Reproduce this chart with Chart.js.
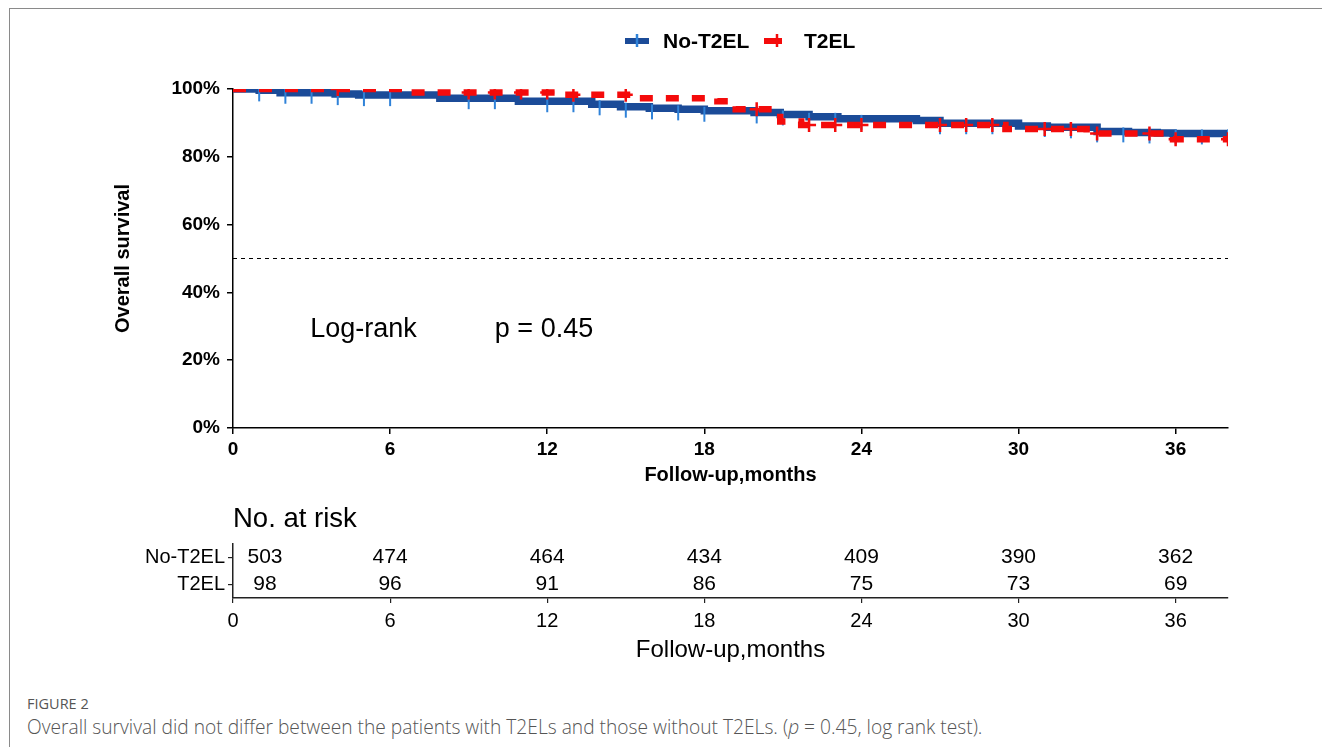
<!DOCTYPE html>
<html>
<head>
<meta charset="utf-8">
<script src="https://cdn.jsdelivr.net/npm/chart.js@4.4.0/dist/chart.umd.min.js"></script>
<style>
    html, body { margin: 0; padding: 0; background: #fff; }
    #figure {
        position: relative;
        width: 1322px;
        height: 747px;
        overflow: hidden;
        background: #fff;
    }
    #frame {
        position: absolute;
        left: 9px;
        top: 8px;
        width: 1400px;
        height: 800px;
        border-top: 1.5px solid #8a8a8a;
        border-left: 1.5px solid #8a8a8a;
    }
    #kmChart { position: absolute; left: 0; top: 0; }
    #riskChart { position: absolute; left: 0; top: 500px; }
    .fig-label {
        position: absolute;
        left: 27px;
        top: 694px;
        font-family: 'Open Sans', 'Noto Sans', sans-serif;
        font-size: 14.5px;
        color: #555;
    }
    .fig-caption {
        position: absolute;
        left: 27px;
        top: 713px;
        font-family: 'Open Sans', 'Noto Sans', sans-serif;
        font-weight: 300;
        font-size: 19.2px;
        color: #555;
        white-space: nowrap;
    }
</style>
</head>
<body>
<div id="figure">
    <div id="frame"></div>
    <canvas id="kmChart" width="1322" height="500"></canvas>
    <canvas id="riskChart" width="1322" height="180"></canvas>
    <div class="fig-label">FIGURE 2</div>
    <div class="fig-caption">Overall survival did not differ between the patients with T2ELs and those without T2ELs. (<i>p</i> = 0.45, log rank test).</div>
</div>

<script>
// Kaplan-Meier steps (months, survival %)
const noT2elTimes = [0, 1.0, 1.8, 3.9, 4.8, 7.9, 10.9, 13.7, 14.8, 15.9, 17.0, 18.0, 19.9, 20.9, 22.0, 23.1, 26.1, 27.0, 30.0, 31.1, 33.0, 34.2, 35.3, 35.9, 38];
const noT2elSurv  = [100, 99.6, 98.9, 98.5, 98.2, 97.3, 96.4, 95.5, 94.8, 94.3, 94.0, 93.6, 93.1, 92.5, 91.8, 91.2, 90.7, 89.9, 89.1, 88.7, 87.5, 87.2, 87.0, 86.9, 86.9];

const t2elTimes = [0, 6.7, 12.6, 15.5, 18.5, 19.2, 20.9, 21.7, 29.5, 32.6, 35.9, 38];
const t2elSurv  = [100, 99.0, 98.3, 97.3, 96.4, 94.0, 90.4, 89.4, 88.2, 86.9, 85.2, 85.2];

// censoring times (months)
const noT2elCensor = [1, 2, 3, 4, 5, 6, 9, 10, 12, 13, 14, 15, 16, 17, 18, 20, 21, 22, 23, 24, 27, 28, 29, 31, 32, 33, 34, 35, 36, 37, 38];
const t2elCensor   = [4, 9, 10, 11, 12, 13, 15, 20, 22, 23, 24, 27, 28, 29, 31, 32, 33, 35, 36, 38];

// median reference line
const refLineX = [0, 38];
const refLineY = [50, 50];

// number at risk table
const riskRows   = ['No-T2EL', 'T2EL'];
const riskTimes  = [0, 6, 12, 18, 24, 30, 36];
const riskNoT2el = [503, 474, 464, 434, 409, 390, 362];
const riskT2el   = [98, 96, 91, 86, 75, 73, 69];

const xTickStep = 6;
const yTicks = [0, 20, 40, 60, 80, 100];

const BLUE = '#1b4b98';
const BLUE_TICK = '#2f82d8';
const RED = '#f40b0b';
const FONT = "'Liberation Sans', Arial, Helvetica, sans-serif";

const toPoints = (xs, ys) => xs.map((x, i) => ({ x: x, y: ys[i] }));

// survival value at time t from a step curve
const survAt = (times, surv, t) => {
    let v = surv[0];
    for (let i = 0; i < times.length; i++) {
        if (times[i] <= t) v = surv[i];
    }
    return v;
};

// small vertical tick mark, hanging mostly below the curve
const makeTickImage = () => {
    const c = document.createElement('canvas');
    c.width = 4;
    c.height = 26;
    const g = c.getContext('2d');
    g.strokeStyle = BLUE_TICK;
    g.lineWidth = 2;
    g.beginPath();
    g.moveTo(2, 9);
    g.lineTo(2, 24);
    g.stroke();
    return c;
};

// legend at the top of the plot
const kmLegend = {
    id: 'kmLegend',
    afterDraw(chart) {
        const ctx = chart.ctx;
        ctx.save();
        // No-T2EL swatch
        ctx.strokeStyle = BLUE;
        ctx.lineWidth = 6;
        ctx.beginPath();
        ctx.moveTo(625, 41);
        ctx.lineTo(649, 41);
        ctx.stroke();
        ctx.strokeStyle = BLUE_TICK;
        ctx.lineWidth = 2.5;
        ctx.beginPath();
        ctx.moveTo(637, 34);
        ctx.lineTo(637, 47);
        ctx.stroke();
        // T2EL swatch
        ctx.strokeStyle = RED;
        ctx.lineWidth = 6;
        ctx.beginPath();
        ctx.moveTo(764, 41);
        ctx.lineTo(782, 41);
        ctx.stroke();
        ctx.lineWidth = 2.5;
        ctx.beginPath();
        ctx.moveTo(777, 34);
        ctx.lineTo(777, 47);
        ctx.stroke();

        ctx.fillStyle = '#000';
        ctx.font = 'bold 21px ' + FONT;
        ctx.textBaseline = 'middle';
        ctx.textAlign = 'left';
        ctx.fillText('No-T2EL', 663, 42);
        ctx.fillText('T2EL', 804, 42);
        ctx.restore();
    }
};

// log-rank annotation
const logRankText = {
    id: 'logRankText',
    afterDatasetsDraw(chart) {
        const { ctx, scales: { x, y } } = chart;
        ctx.save();
        ctx.fillStyle = '#000';
        ctx.font = '27px ' + FONT;
        ctx.textBaseline = 'middle';
        ctx.textAlign = 'left';
        const ty = y.getPixelForValue(29);
        ctx.fillText('Log-rank', x.getPixelForValue(2.95), ty);
        ctx.fillText('p = 0.45', x.getPixelForValue(10.0), ty);
        ctx.restore();
    }
};

const kmChart = new Chart(document.getElementById('kmChart'), {
    type: 'line',
    data: {
        datasets: [
            {
                label: 'T2EL censored',
                data: t2elCensor.map(t => ({ x: t, y: survAt(t2elTimes, t2elSurv, t) })),
                showLine: false,
                pointStyle: 'cross',
                pointRadius: 7,
                borderColor: RED,
                borderWidth: 2.5
            },
            {
                label: 'T2EL',
                data: toPoints(t2elTimes, t2elSurv),
                stepped: true,
                borderColor: RED,
                borderWidth: 6.5,
                borderDash: [13, 13],
                borderCapStyle: 'butt',
                pointRadius: 0,
                fill: false
            },
            {
                label: 'No-T2EL censored',
                data: noT2elCensor.map(t => ({ x: t, y: survAt(noT2elTimes, noT2elSurv, t) })),
                showLine: false,
                pointStyle: makeTickImage(),
                pointRadius: 7,
                borderColor: BLUE_TICK
            },
            {
                label: 'No-T2EL',
                data: toPoints(noT2elTimes, noT2elSurv),
                stepped: true,
                borderColor: BLUE,
                borderWidth: 7.5,
                pointRadius: 0,
                fill: false
            },
            {
                label: 'median',
                data: toPoints(refLineX, refLineY),
                borderColor: '#000',
                borderWidth: 1,
                borderDash: [4, 4],
                pointRadius: 0,
                fill: false
            }
        ]
    },
    options: {
        responsive: false,
        devicePixelRatio: 1,
        animation: false,
        layout: { padding: { left: 107, top: 89, right: 94, bottom: 9 } },
        plugins: {
            legend: { display: false },
            tooltip: { enabled: false }
        },
        scales: {
            x: {
                type: 'linear',
                min: 0,
                max: 38,
                ticks: {
                    stepSize: xTickStep,
                    includeBounds: false,
                    maxRotation: 0,
                    color: '#000',
                    padding: 4,
                    font: { family: FONT, size: 19, weight: 'bold' }
                },
                grid: { display: true, drawOnChartArea: false, drawTicks: true, tickLength: 6, color: '#000', lineWidth: 1.5 },
                border: { display: true, color: '#000', width: 1.5 },
                title: {
                    display: true,
                    text: 'Follow-up,months',
                    color: '#000',
                    font: { family: FONT, size: 20, weight: 'bold' },
                    padding: { top: 4, bottom: 4 }
                },
                afterFit: s => { s.height = 63; }
            },
            y: {
                min: 0,
                max: 100,
                afterBuildTicks: s => { s.ticks = yTicks.map(v => ({ value: v })); },
                ticks: {
                    color: '#000',
                    padding: 7,
                    font: { family: FONT, size: 19, weight: 'bold' },
                    callback: v => v + '%'
                },
                grid: { display: true, drawOnChartArea: false, drawTicks: true, tickLength: 6, color: '#000', lineWidth: 1.5 },
                border: { display: true, color: '#000', width: 1.5 },
                title: {
                    display: true,
                    text: 'Overall survival',
                    color: '#000',
                    font: { family: FONT, size: 20, weight: 'bold' },
                    padding: { top: 4, bottom: 4 }
                },
                afterFit: s => { s.width = 126; }
            }
        }
    },
    plugins: [kmLegend, logRankText]
});

// numbers at risk drawn on the risk chart's scales
const riskNumbers = {
    id: 'riskNumbers',
    afterDraw(chart) {
        const { ctx, scales: { x, y }, chartArea } = chart;
        ctx.save();
        ctx.fillStyle = '#000';
        ctx.font = '21px ' + FONT;
        ctx.textAlign = 'center';
        ctx.textBaseline = 'middle';
        const rows = [riskNoT2el, riskT2el];
        rows.forEach((vals, r) => {
            const py = y.getPixelForValue(r);
            vals.forEach((v, i) => {
                let px = x.getPixelForValue(riskTimes[i]);
                if (i === 0) px = chartArea.left + 32;
                ctx.fillText(String(v), px, py);
            });
        });
        // table heading
        ctx.font = '27.5px ' + FONT;
        ctx.textAlign = 'left';
        ctx.fillText('No. at risk', chartArea.left, 19);
        ctx.restore();
    }
};

const riskChart = new Chart(document.getElementById('riskChart'), {
    type: 'scatter',
    data: { datasets: [] },
    options: {
        responsive: false,
        devicePixelRatio: 1,
        animation: false,
        layout: { padding: { left: 0, top: 44, right: 94, bottom: 11 } },
        plugins: {
            legend: { display: false },
            tooltip: { enabled: false }
        },
        scales: {
            x: {
                type: 'linear',
                min: 0,
                max: 38,
                ticks: {
                    stepSize: xTickStep,
                    includeBounds: false,
                    maxRotation: 0,
                    color: '#000',
                    padding: 6,
                    font: { family: FONT, size: 20 }
                },
                grid: { display: true, drawOnChartArea: false, drawTicks: true, tickLength: 5, color: '#222', lineWidth: 1.2 },
                border: { display: true, color: '#222', width: 1.5 },
                title: {
                    display: true,
                    text: 'Follow-up,months',
                    color: '#000',
                    font: { family: FONT, size: 24 },
                    padding: { top: 4, bottom: 4 }
                },
                afterFit: s => { s.height = 71; }
            },
            y: {
                type: 'category',
                labels: riskRows,
                offset: true,
                ticks: {
                    color: '#000',
                    padding: 3,
                    font: { family: FONT, size: 20 }
                },
                grid: { display: true, offset: false, drawOnChartArea: false, drawTicks: true, tickLength: 5, color: '#222', lineWidth: 1.2 },
                border: { display: true, color: '#222', width: 1.5 },
                afterFit: s => { s.width = 233; }
            }
        }
    },
    plugins: [riskNumbers]
});
</script>
</body>
</html>
